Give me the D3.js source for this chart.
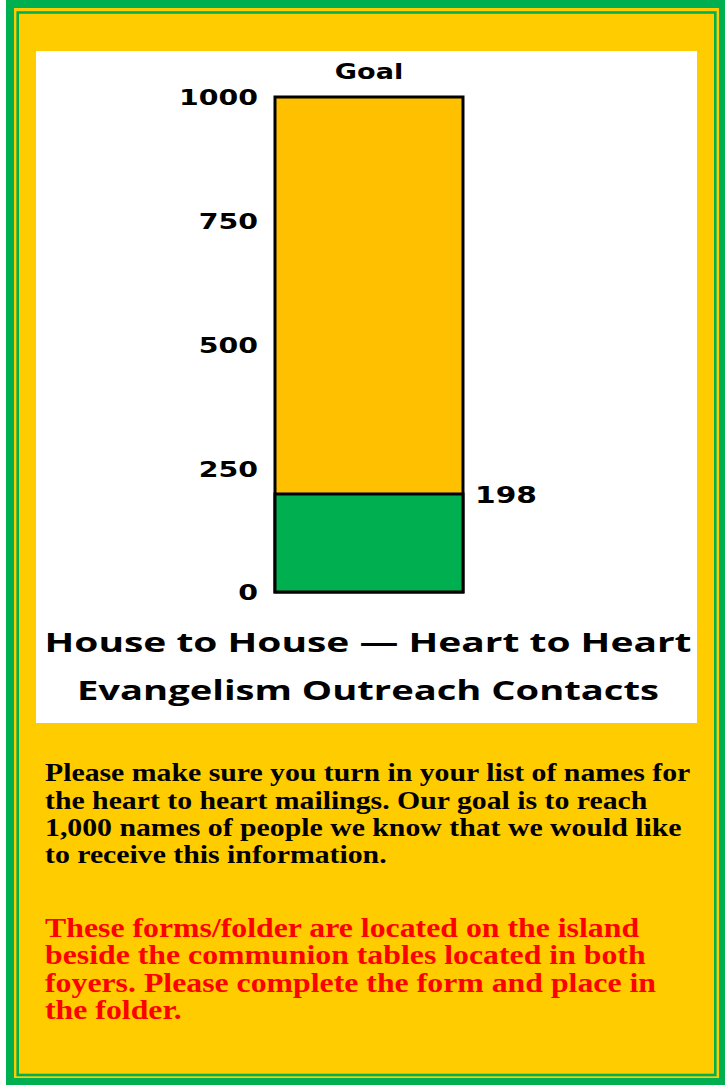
<!DOCTYPE html>
<html>
<head>
<meta charset="utf-8">
<script src="https://cdn.jsdelivr.net/npm/d3@7"></script>
<style>
  body { margin: 0; background: #ffffff; }
</style>
</head>
<body>
<div id="chart"></div>
<script>
// data
var categories = ["Contacts"];
var goal = [1000];
var reached = [198];
var tickValues = [0, 250, 500, 750, 1000];
var titleLines = ["House to House \u2014 Heart to Heart", "Evangelism Outreach Contacts"];
var noteLines = [
    "Please make sure you turn in your list of names for",
    "the heart to heart mailings. Our goal is to reach",
    "1,000 names of people we know that we would like",
    "to receive this information."
];
var redLines = [
    "These forms/folder are located on the island",
    "beside the communion tables located in both",
    "foyers. Please complete the form and place in",
    "the folder."
];

var W = 725, H = 1085;
var svg = d3.select("#chart")
    .append("svg")
    .attr("width", W)
    .attr("height", H);

// frame
svg.append("rect").attr("x", 6).attr("y", 0).attr("width", W - 6).attr("height", H).attr("fill", "#00b050");
svg.append("rect").attr("x", 14).attr("y", 8).attr("width", 705).attr("height", 1070).attr("fill", "#ffcc00");
svg.append("rect").attr("x", 17.7).attr("y", 12.5).attr("width", 697.6).attr("height", 1062.5)
    .attr("fill", "#ffcc00").attr("stroke", "#00b050").attr("stroke-width", 2.6);

// white chart panel
svg.append("rect").attr("x", 36).attr("y", 51).attr("width", 661).attr("height", 672).attr("fill", "#ffffff");

var stretch = 1.29;
function widen(sel) {
    sel.each(function() {
        var len = this.getComputedTextLength();
        d3.select(this).attr("textLength", len * stretch).attr("lengthAdjust", "spacingAndGlyphs");
    });
}

var y = d3.scaleLinear()
    .domain([0, 1000])
    .range([592, 97]);
var x = d3.scaleBand()
    .domain(categories)
    .range([275, 463]);

// axis labels only
var axis = svg.append("g")
    .attr("transform", "translate(258,0)")
    .call(d3.axisLeft(y).tickValues(tickValues).tickFormat(d3.format("d")).tickSize(0).tickPadding(0));
axis.select(".domain").remove();
axis.selectAll("text")
    .attr("dy", "0.36em")
    .style("font-family", "'DejaVu Sans', sans-serif")
    .style("font-weight", "bold")
    .style("font-size", "22px")
    .style("fill", "#000")
    .call(widen);

// goal bar
svg.selectAll(".goal")
    .data(goal)
    .enter().append("rect")
    .attr("class", "goal")
    .attr("x", (d, i) => x(categories[i]))
    .attr("y", d => y(d))
    .attr("width", x.bandwidth())
    .attr("height", d => y(0) - y(d))
    .attr("fill", "#ffc000")
    .attr("stroke", "#000")
    .attr("stroke-width", 3);

// progress bar
svg.selectAll(".reached")
    .data(reached)
    .enter().append("rect")
    .attr("class", "reached")
    .attr("x", (d, i) => x(categories[i]))
    .attr("y", d => y(d))
    .attr("width", x.bandwidth())
    .attr("height", d => y(0) - y(d))
    .attr("fill", "#00b050")
    .attr("stroke", "#000")
    .attr("stroke-width", 3);

svg.selectAll(".goal-label")
    .data(goal)
    .enter().append("text")
    .attr("x", (d, i) => x(categories[i]) + x.bandwidth() / 2)
    .attr("y", d => y(d) - 18)
    .attr("text-anchor", "middle")
    .style("font-family", "'DejaVu Sans', sans-serif")
    .style("font-weight", "bold")
    .style("font-size", "21px")
    .text("Goal")
    .call(widen);

svg.selectAll(".value-label")
    .data(reached)
    .enter().append("text")
    .attr("x", (d, i) => x(categories[i]) + x.bandwidth() + 12)
    .attr("y", d => y(d) + 9)
    .style("font-family", "'DejaVu Sans', sans-serif")
    .style("font-weight", "bold")
    .style("font-size", "23px")
    .text(d => d)
    .call(widen);

// titles
var titleWidths = [647, 582];
svg.selectAll(".title")
    .data(titleLines)
    .enter().append("text")
    .attr("x", 368)
    .attr("y", (d, i) => 652 + i * 48)
    .attr("text-anchor", "middle")
    .attr("textLength", (d, i) => titleWidths[i])
    .attr("lengthAdjust", "spacingAndGlyphs")
    .style("font-family", "'Open Sans', sans-serif")
    .style("font-weight", "bold")
    .style("font-size", "26px")
    .text(d => d);

// notes (both blocks are slightly widened in the original)
svg.append("g")
    .attr("transform", "translate(45,0) scale(1.145,1)")
    .selectAll(".note")
    .data(noteLines)
    .enter().append("text")
    .attr("x", 0)
    .attr("y", (d, i) => 781.5 + i * 27.2)
    .style("font-family", "'Liberation Serif', 'Times New Roman', serif")
    .style("font-weight", "bold")
    .style("font-size", "26px")
    .style("fill", "#000")
    .text(d => d);

svg.append("g")
    .attr("transform", "translate(45,0) scale(1.2,1)")
    .selectAll(".red")
    .data(redLines)
    .enter().append("text")
    .attr("x", 0)
    .attr("y", (d, i) => 937 + i * 27.3)
    .style("font-family", "'Liberation Serif', 'Times New Roman', serif")
    .style("font-weight", "bold")
    .style("font-size", "26.5px")
    .style("fill", "#ff0000")
    .text(d => d);
</script>
</body>
</html>
